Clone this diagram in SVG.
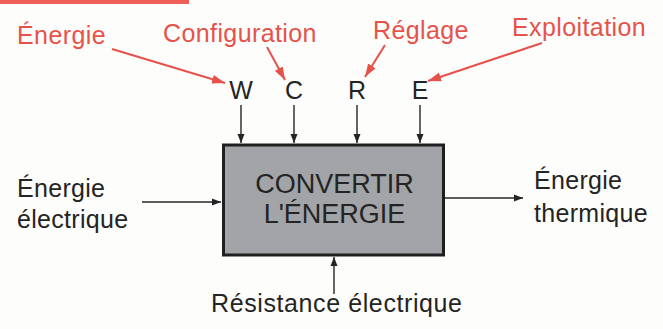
<svg xmlns="http://www.w3.org/2000/svg" width="663" height="329" viewBox="0 0 663 329">
  <style>
    .red { font-family: "Liberation Sans", Arial, sans-serif; font-size: 25px; fill: #e6524a; letter-spacing: 0.4px; }
    .lbl { font-family: "Liberation Sans", Arial, sans-serif; font-size: 25px; fill: #242424; letter-spacing: 0.3px; }
    .ltr { font-family: "Liberation Sans", Arial, sans-serif; font-size: 25px; fill: #242424; text-anchor: middle; }
    .big { font-family: "Liberation Sans", Arial, sans-serif; font-size: 27px; fill: #242424; text-anchor: middle; }
    .blk { stroke: #242424; stroke-width: 1.4; fill: none; }
    .rl { stroke: #e6524a; stroke-width: 2; fill: none; }
  </style>
  <defs>
    <marker id="ab" markerUnits="userSpaceOnUse" markerWidth="9" markerHeight="8" refX="9" refY="4" orient="auto">
      <path d="M0,0.5 L9,4 L0,7.5 z" fill="#242424"/>
    </marker>
    <marker id="ar" markerUnits="userSpaceOnUse" markerWidth="13" markerHeight="10" refX="13" refY="5" orient="auto">
      <path d="M0,0.5 L13,5 L0,9.5 z" fill="#e6524a"/>
    </marker>
  </defs>
  <rect x="0" y="0" width="663" height="329" fill="#fdfdfc"/>
  <rect x="0" y="0" width="189" height="4" fill="#ee5f5a"/>

  <g id="label-energie"><text class="red" x="17" y="44">Énergie</text></g>
  <g id="label-configuration"><text class="red" x="163" y="41.5">Configuration</text></g>
  <g id="label-reglage"><text class="red" x="373" y="38.5">Réglage</text></g>
  <g id="label-exploitation"><text class="red" x="512" y="35.5">Exploitation</text></g>

  <g id="input-W"><text class="ltr" x="241" y="99">W</text></g>
  <g id="input-C"><text class="ltr" x="294" y="99">C</text></g>
  <g id="input-R"><text class="ltr" x="357" y="99">R</text></g>
  <g id="input-E"><text class="ltr" x="420" y="99">E</text></g>

  <g id="process">
    <rect x="223.5" y="145" width="220" height="110" fill="#a2a4a7" stroke="#1f1f1f" stroke-width="3"/>
    <text class="big" x="334.5" y="193">CONVERTIR</text>
    <text class="big" x="334.5" y="223">L'ÉNERGIE</text>
  </g>

  <g id="input-energie-electrique">
    <text class="lbl" x="17" y="197">Énergie</text>
    <text class="lbl" x="17" y="228">électrique</text>
  </g>
  <g id="output-energie-thermique">
    <text class="lbl" x="534" y="189">Énergie</text>
    <text class="lbl" x="534" y="222">thermique</text>
  </g>
  <g id="mechanism-resistance">
    <text class="lbl" x="211" y="312" style="letter-spacing:0.6px">Résistance électrique</text>
  </g>

  <g id="connectors">
    <line class="rl" x1="112" y1="49" x2="225" y2="83" marker-end="url(#ar)"/>
    <line class="rl" x1="267" y1="47" x2="285" y2="80" marker-end="url(#ar)"/>
    <line class="rl" x1="385" y1="45" x2="365" y2="77" marker-end="url(#ar)"/>
    <line class="rl" x1="542" y1="43" x2="428" y2="81" marker-end="url(#ar)"/>

    <line class="blk" x1="241" y1="105" x2="241" y2="143" marker-end="url(#ab)"/>
    <line class="blk" x1="294" y1="105" x2="294" y2="143" marker-end="url(#ab)"/>
    <line class="blk" x1="357" y1="105" x2="357" y2="143" marker-end="url(#ab)"/>
    <line class="blk" x1="420" y1="105" x2="420" y2="143" marker-end="url(#ab)"/>

    <line class="blk" x1="142" y1="202" x2="221" y2="202" marker-end="url(#ab)"/>
    <line class="blk" x1="445" y1="198" x2="523" y2="198" marker-end="url(#ab)"/>
    <line class="blk" x1="334" y1="294" x2="334" y2="257" marker-end="url(#ab)"/>
  </g>
</svg>
